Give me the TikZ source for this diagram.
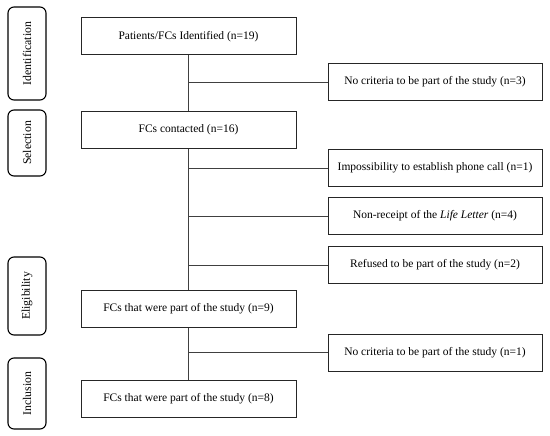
\documentclass[tikz,border=0pt]{standalone}
\usepackage{fontspec}
\setmainfont{Liberation Serif}
\usepackage{tikz}
\usetikzlibrary{positioning, calc}
\tikzset{
  stagebox/.style={
    rectangle, rounded corners=6pt, rotate=90,
    minimum width=#1, minimum height=38pt,
    text centered, font=\fontsize{11.8}{13}\selectfont,
    draw=black, line width=1.1pt
  },
  mainbox/.style={
    rectangle, minimum width=215pt, minimum height=37pt,
    text centered, font=\fontsize{11.5}{13}\selectfont,
    draw=black!85, line width=1pt
  },
  sidebox/.style={
    rectangle, minimum width=214pt, minimum height=37pt,
    text centered, font=\fontsize{11.5}{13}\selectfont,
    draw=black!85, line width=1pt
  },
  flowline/.style={line width=0.8pt, color=black!75},
}

\begin{document}
\begin{tikzpicture}[x=1pt, y=-1pt]
      \useasboundingbox (0,0) rectangle (550,436);
      % stages
      \node[stagebox=93pt](st1) at (27,53.5)  {Identification};
      \node[stagebox=66pt](st2) at (27,143)   {Selection};
      \node[stagebox=78pt](st3) at (27,296)   {Eligibility};
      \node[stagebox=71pt](st4) at (27,393.5) {Inclusion};
      % main flow
      \node[mainbox](m1) at (188.5,36.5)  {Patients/FCs Identified (n=19)};
      \node[mainbox](m2) at (188.5,130)   {FCs contacted (n=16)};
      \node[mainbox](m3) at (188.5,308.5) {FCs that were part of the study (n=9)};
      \node[mainbox](m4) at (188.5,398.5) {FCs that were part of the study (n=8)};
      % exclusions
      \node[sidebox](x1) at (435,82)    {No criteria to be part of the study (n=3)};
      \node[sidebox](x2) at (435,168)   {Impossibility to establish phone call (n=1)};
      \node[sidebox](x3) at (435,216)   {Non-receipt of the \textit{Life Letter} (n=4)};
      \node[sidebox](x4) at (435,265)   {Refused to be part of the study (n=2)};
      \node[sidebox](x5) at (435,352.5) {No criteria to be part of the study (n=1)};
      \draw[flowline](m1.south)--(m2.north);
      \draw[flowline](m2.south)--(m3.north);
      \draw[flowline](m3.south)--(m4.north);
      \draw[flowline](m1.south |- x1.west)--(x1.west);
      \draw[flowline](m2.south |- x2.west)--(x2.west);
      \draw[flowline](m2.south |- x3.west)--(x3.west);
      \draw[flowline](m2.south |- x4.west)--(x4.west);
      \draw[flowline](m3.south |- x5.west)--(x5.west);
    \end{tikzpicture}
\end{document}
